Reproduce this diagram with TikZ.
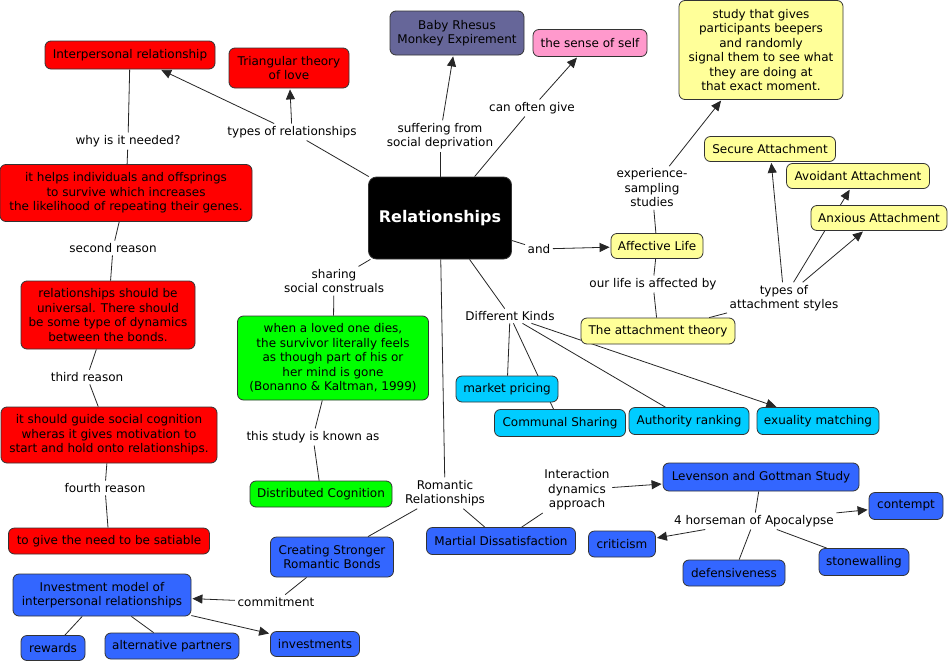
\documentclass[tikz,border=0pt]{standalone}
\usepackage{fontspec}
\setmainfont{DejaVu Sans}
\usetikzlibrary{arrows.meta,backgrounds}
\definecolor{cred}{HTML}{FF0000}
\definecolor{cslate}{HTML}{666699}
\definecolor{cpink}{HTML}{FF99CC}
\definecolor{cyel}{HTML}{FFFF99}
\definecolor{cgreen}{HTML}{00FF00}
\definecolor{ccyan}{HTML}{00CCFF}
\definecolor{cblue}{HTML}{3366FF}
\begin{document}
\begin{tikzpicture}[x=1pt,y=-1pt,
  every node/.style={font=\fontsize{12}{14.5}\selectfont, align=center},
  cbox/.style={draw=black!80, rounded corners=6pt, line width=0.8pt, inner sep=2pt},
  sz/.style 2 args={minimum width=#1pt, minimum height=#2pt},
  lab/.style={inner sep=2.5pt},
  ln/.style={draw=black!85, line width=0.8pt},
  ar/.style={ln, -{Triangle[length=10pt,width=9pt]}, shorten >=1pt}]
\useasboundingbox (0,0) rectangle (950,664);

% concepts
\node[cbox, fill=black, sz={143}{82}, text=white, font=\fontsize{16}{19}\selectfont\bfseries, rounded corners=8pt] (rel) at (440,218) {Relationships};
\node[cbox, fill=cred, sz={170}{28}] (ip) at (130,55) {Interpersonal relationship};
\node[cbox, fill=cred, sz={120}{40}] (tri) at (289,68) {Triangular theory\\of love};
\node[cbox, fill=cslate, sz={134}{44}] (baby) at (457,33) {Baby Rhesus\\Monkey Expirement};
\node[cbox, fill=cpink, sz={114}{27}] (self) at (590,43) {the sense of self};
\node[cbox, fill=cyel, sz={164}{99}] (study) at (761,50) {study that gives\\participants beepers\\and randomly\\signal them to see what\\they are doing at\\that exact moment.};
\node[cbox, fill=cyel, sz={131}{25}] (secure) at (770,149) {Secure Attachment};
\node[cbox, fill=cyel, sz={143}{25}] (avoid) at (858,176) {Avoidant Attachment};
\node[cbox, fill=cyel, sz={136}{25}] (anx) at (879,218) {Anxious Attachment};
\node[cbox, fill=cyel, sz={92}{25}] (aff) at (657,246) {Affective Life};
\node[cbox, fill=cyel, sz={154}{26}] (att) at (658,331) {The attachment theory};
\node[cbox, fill=cred, sz={252}{57}] (helps) at (126,193) {it helps individuals and offsprings\\to survive which increases\\the likelihood of repeating their genes.};
\node[cbox, fill=cred, sz={174}{68}] (univ) at (108,315) {relationships should be\\universal. There should\\be some type of dynamics\\between the bonds.};
\node[cbox, fill=cred, sz={216}{56}] (guide) at (109,435) {it should guide social cognition\\wheras it gives motivation to\\start and hold onto relationships.};
\node[cbox, fill=cred, sz={201}{26}] (sat) at (109,541) {to give the need to be satiable};
\node[cbox, fill=cgreen, sz={191}{84}] (green) at (333,358) {when a loved one dies,\\the survivor literally feels\\as though part of his or\\her mind is gone\\(Bonanno \& Kaltman, 1999)};
\node[cbox, fill=cgreen, sz={142}{26}] (dist) at (321,494) {Distributed Cognition};
\node[cbox, fill=ccyan, sz={102}{26}] (market) at (507,389) {market pricing};
\node[cbox, fill=ccyan, sz={131}{27}] (comm) at (560,423) {Communal Sharing};
\node[cbox, fill=ccyan, sz={120}{27}] (auth) at (689,421) {Authority ranking};
\node[cbox, fill=ccyan, sz={122}{27}] (exu) at (818,421) {exuality matching};
\node[cbox, fill=cblue, sz={196}{28}] (lev) at (761,477) {Levenson and Gottman Study};
\node[cbox, fill=cblue, sz={74}{27}] (cont) at (906,506) {contempt};
\node[cbox, fill=cblue, sz={67}{26}] (crit) at (622,544) {criticism};
\node[cbox, fill=cblue, sz={102}{26}] (def) at (734,573) {defensiveness};
\node[cbox, fill=cblue, sz={90}{27}] (stone) at (864,562) {stonewalling};
\node[cbox, fill=cblue, sz={149}{27}] (mart) at (501,541) {Martial Dissatisfaction};
\node[cbox, fill=cblue, sz={123}{40}] (create) at (332,557) {Creating Stronger\\Romantic Bonds};
\node[cbox, fill=cblue, sz={178}{42}] (inv) at (102,595) {Investment model of\\interpersonal relationships};
\node[cbox, fill=cblue, sz={64}{25}] (rew) at (53,648) {rewards};
\node[cbox, fill=cblue, sz={134}{26}] (alt) at (172,646) {alternative partners};
\node[cbox, fill=cblue, sz={89}{25}] (invs) at (315,644) {investments};

% linking phrases
\node[lab] (why) at (128,141) {why is it needed?};
\node[lab] (tor) at (292,132) {types of relationships};
\node[lab] (suff) at (440,136) {suffering from\\social deprivation};
\node[lab] (can) at (532,108) {can often give};
\node[lab] (exps) at (652,188) {experience-\\sampling\\studies};
\node[lab] (and) at (539,249) {and};
\node[lab] (our) at (653,284) {our life is affected by};
\node[lab] (tas) at (784,298) {types of\\attachment styles};
\node[lab] (diff) at (510,316) {Different Kinds};
\node[lab] (second) at (113,248) {second reason};
\node[lab] (share) at (334,281) {sharing\\social construals};
\node[lab] (third) at (87,377) {third reason};
\node[lab] (known) at (313,437) {this study is known as};
\node[lab] (fourth) at (105,488) {fourth reason};
\node[lab] (rom) at (445,493) {Romantic\\Relationships};
\node[lab] (inter) at (577,490) {Interaction\\dynamics\\approach};
\node[lab] (horse) at (754,521) {4 horseman of Apocalypse};
\node[lab] (commit) at (276,602) {commitment};

\begin{scope}[on background layer]
\fill[white] (0,0) rectangle (950,664);
\draw[ln] (rel) -- (tor);
\draw[ar] (tor) -- (ip);
\draw[ar] (tor) -- (tri);
\draw[ln] (ip) -- (why);
\draw[ln] (why) -- (helps);
\draw[ln] (helps) -- (second);
\draw[ln] (second) -- (univ);
\draw[ln] (univ) -- (third);
\draw[ln] (third) -- (guide);
\draw[ln] (guide) -- (fourth);
\draw[ln] (fourth) -- (sat);
\draw[ln] (rel) -- (suff);
\draw[ar] (suff) -- (baby);
\draw[ln] (rel) -- (can);
\draw[ar] (can) -- (self);
\draw[ln] (aff) -- (exps);
\draw[ar] (exps) -- (study);
\draw[ln] (rel) -- (and);
\draw[ar] (and) -- (aff);
\draw[ln] (aff) -- (our);
\draw[ln] (our) -- (att);
\draw[ln] (att) -- (tas);
\draw[ar] (tas) -- (secure);
\draw[ar] (tas) -- (avoid);
\draw[ar] (tas) -- (anx);
\draw[ln] (rel) -- (diff);
\draw[ln] (diff) -- (market);
\draw[ln] (diff) -- (comm);
\draw[ln] (diff) -- (auth);
\draw[ar] (diff) -- (exu);
\draw[ln] (rel) -- (share);
\draw[ln] (share) -- (green);
\draw[ln] (green) -- (known);
\draw[ln] (known) -- (dist);
\draw[ln] (rel) -- (rom);
\draw[ln] (rom) -- (create);
\draw[ln] (rom) -- (mart);
\draw[ln] (mart) -- (inter);
\draw[ar] (inter) -- (lev);
\draw[ln] (lev) -- (horse);
\draw[ar] (horse) -- (cont);
\draw[ar] (horse) -- (crit);
\draw[ln] (horse) -- (def);
\draw[ln] (horse) -- (stone);
\draw[ln] (create) -- (commit);
\draw[ar] (commit) -- (inv);
\draw[ln] (inv) -- (rew);
\draw[ln] (inv) -- (alt);
\draw[ar] (inv) -- (invs);
\end{scope}
\end{tikzpicture}
\end{document}
